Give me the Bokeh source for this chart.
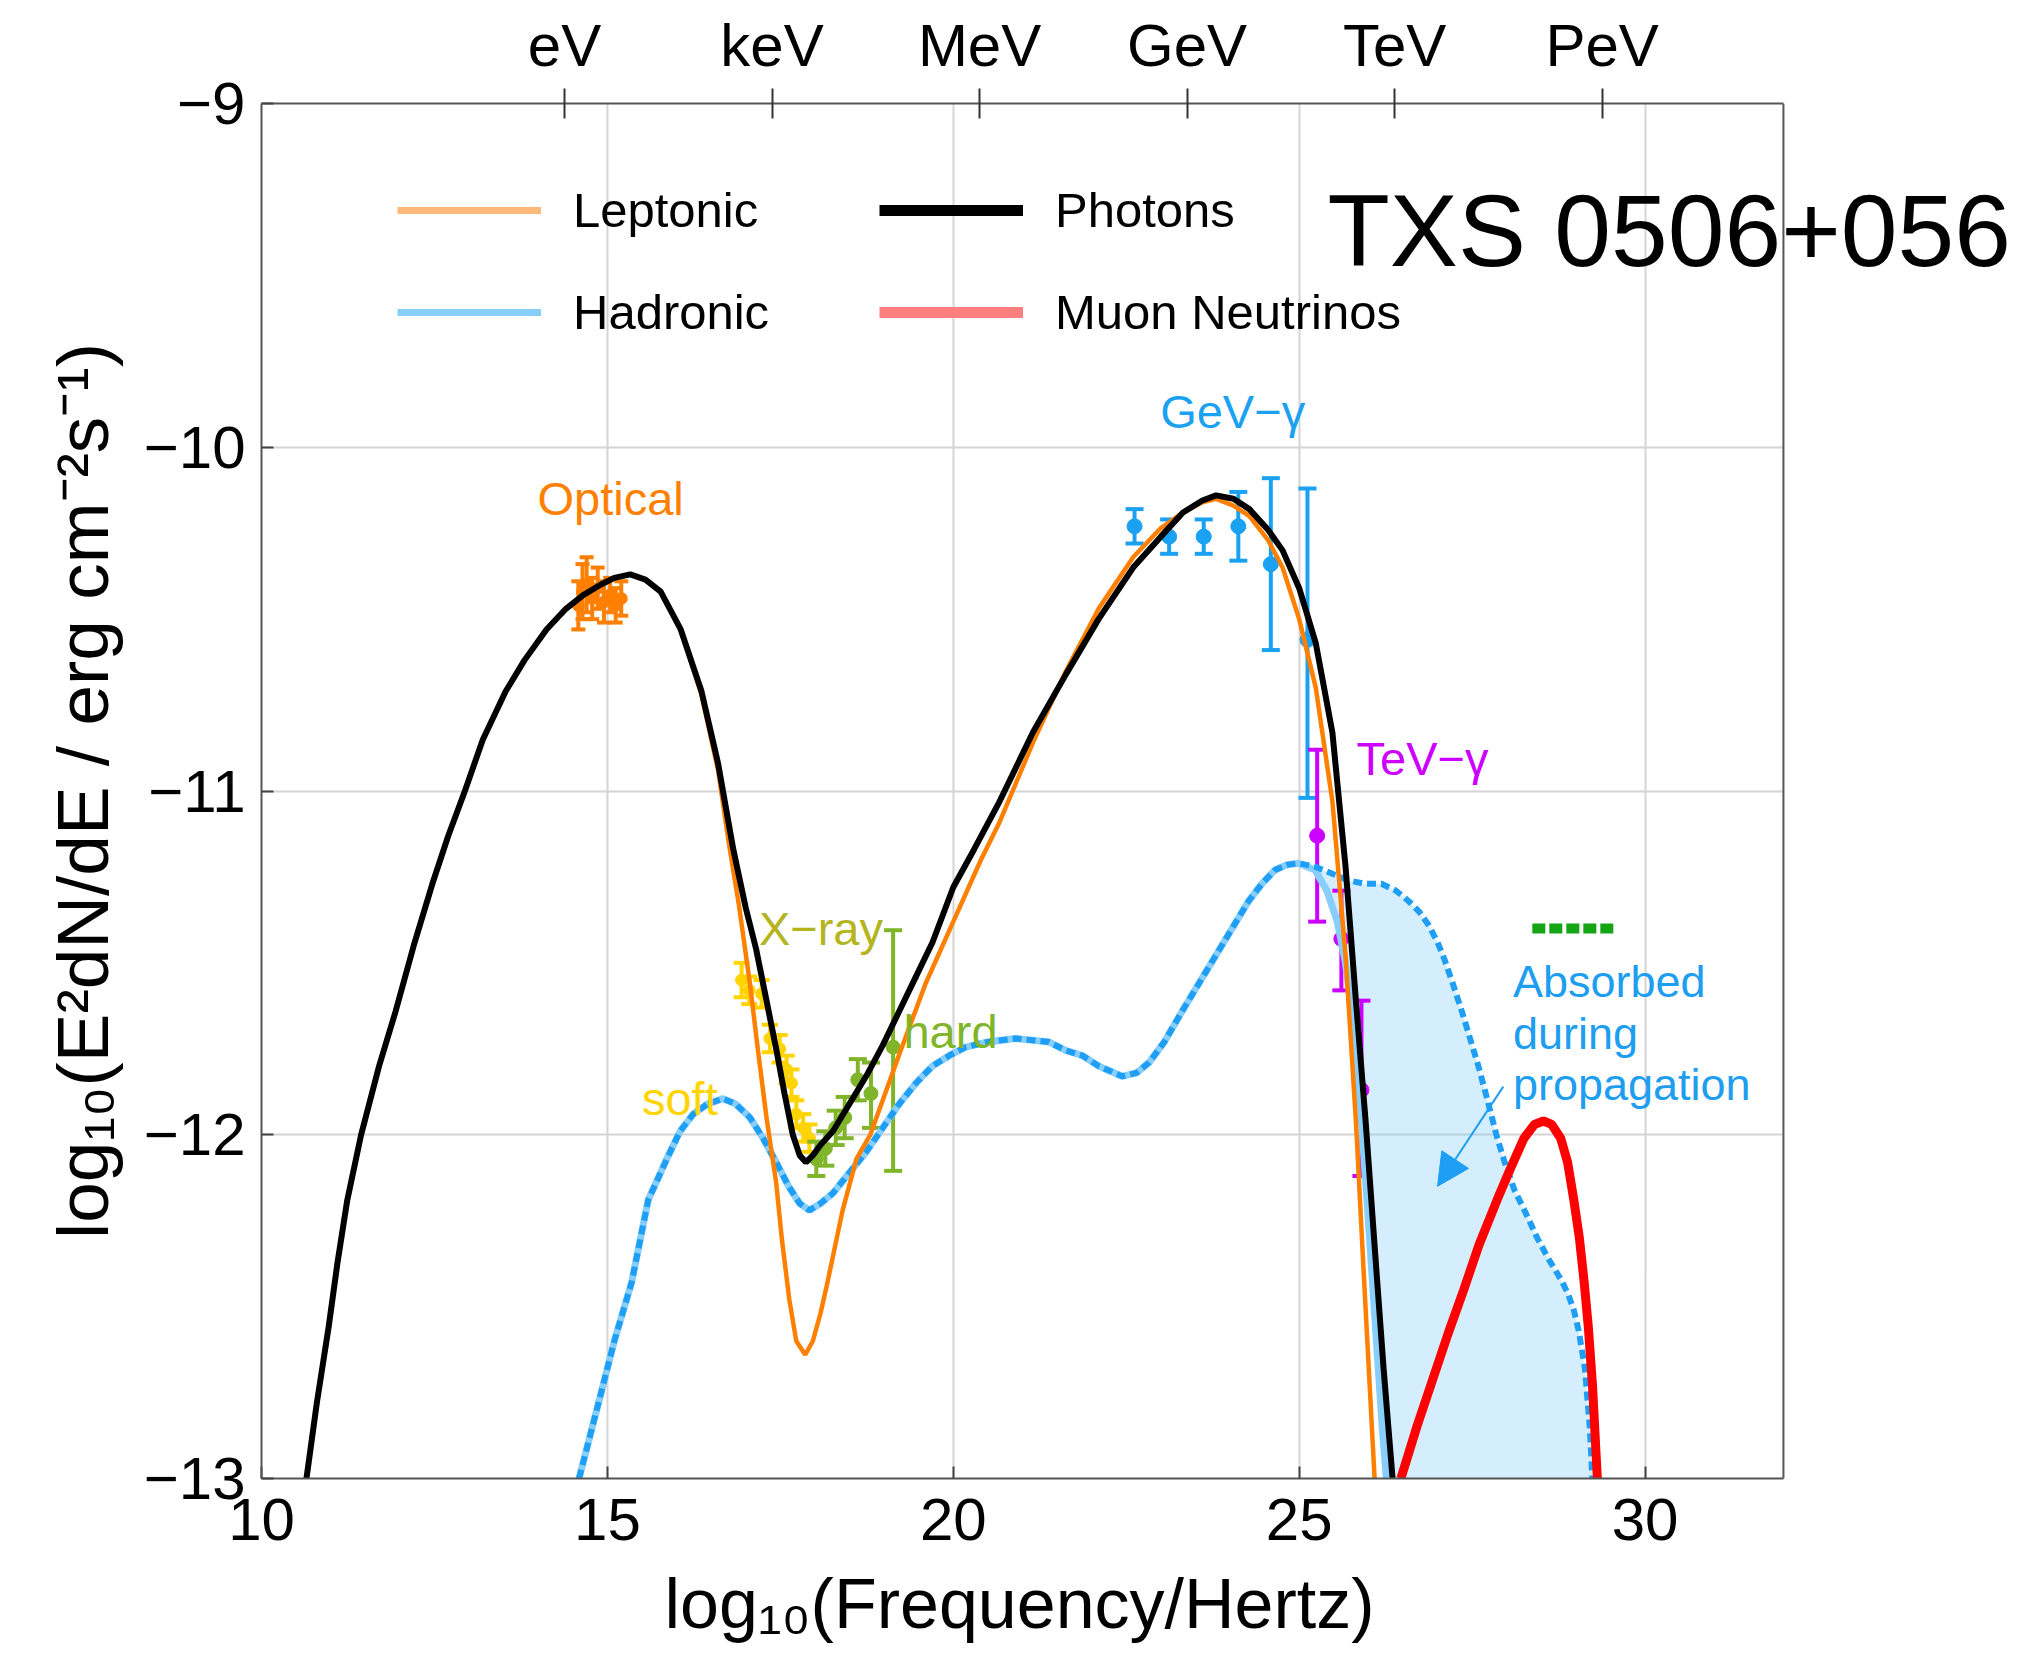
from bokeh.plotting import figure
from bokeh.models import (Range1d, LinearAxis, FixedTicker, Label, Legend, LegendItem,
                          Arrow, NormalHead, Span, Title)
from bokeh.embed import file_html
from bokeh.resources import INLINE

# x: log10(frequency / Hz), y: log10(E^2 dN/dE / erg cm^-2 s^-1)

photons_x = [10.65, 10.8, 10.97, 11.1, 11.24, 11.44, 11.7, 11.94, 12.2, 12.47, 12.7, 12.94,
             13.2, 13.53, 13.8, 14.12, 14.4, 14.65, 14.9, 15.1, 15.33, 15.55, 15.77, 16.06,
             16.36, 16.6, 16.82, 17.0, 17.15, 17.3, 17.44, 17.56, 17.68, 17.78, 17.87, 17.97,
             18.08, 18.26, 18.5, 18.74, 18.98, 19.22, 19.46, 19.7, 20.0, 20.3, 20.67, 21.15,
             21.63, 22.1, 22.6, 23.0, 23.32, 23.6, 23.8, 24.05, 24.28, 24.55, 24.76, 25.0,
             25.24, 25.48, 25.67, 25.82, 25.96, 26.1, 26.22, 26.35]
photons_y = [-13.0, -12.78, -12.56, -12.37, -12.19, -12.0, -11.8, -11.64, -11.45, -11.27, -11.13, -11.0,
             -10.85, -10.71, -10.62, -10.53, -10.47, -10.43, -10.4, -10.38, -10.37, -10.385, -10.42, -10.53,
             -10.71, -10.92, -11.17, -11.34, -11.46, -11.61, -11.75, -11.88, -12.0, -12.06, -12.08, -12.06,
             -12.03, -11.99, -11.91, -11.83, -11.74, -11.64, -11.54, -11.44, -11.28, -11.17, -11.03, -10.83,
             -10.66, -10.5, -10.35, -10.26, -10.19, -10.155, -10.14, -10.15, -10.18, -10.24, -10.3, -10.41,
             -10.57, -10.83, -11.22, -11.61, -11.96, -12.35, -12.68, -13.0]

leptonic_x = [10.65, 10.8, 10.97, 11.1, 11.24, 11.44, 11.7, 11.94, 12.2, 12.47, 12.7, 12.94,
              13.2, 13.53, 13.8, 14.12, 14.4, 14.65, 14.9, 15.1, 15.33, 15.55, 15.77, 16.06,
              16.36, 16.6, 16.77, 16.9, 17.06, 17.18, 17.3, 17.44, 17.52, 17.63, 17.73, 17.86,
              17.97, 18.08, 18.17, 18.4, 18.6, 18.8, 19.23, 19.6, 20.0, 20.4, 20.67, 21.15,
              21.63, 22.1, 22.6, 23.0, 23.32, 23.6, 23.8, 24.05, 24.28, 24.55, 24.76, 25.0,
              25.24, 25.48, 25.67, 25.82, 25.94, 26.09]
leptonic_y = [-13.0, -12.78, -12.56, -12.37, -12.19, -12.0, -11.8, -11.64, -11.45, -11.27, -11.13, -11.0,
              -10.85, -10.71, -10.62, -10.53, -10.47, -10.43, -10.4, -10.38, -10.37, -10.385, -10.42, -10.53,
              -10.72, -10.94, -11.17, -11.33, -11.56, -11.76, -11.95, -12.14, -12.3, -12.48, -12.6, -12.64,
              -12.6, -12.52, -12.44, -12.22, -12.07, -12.0, -11.76, -11.56, -11.38, -11.2, -11.09, -10.86,
              -10.65, -10.47, -10.32, -10.235, -10.19, -10.16, -10.15, -10.17, -10.2, -10.27, -10.35, -10.5,
              -10.7, -11.03, -11.48, -11.96, -12.43, -13.0]

# hadronic emission before propagation losses
hadronic_x = [14.59, 14.91, 15.1, 15.35, 15.59, 15.86, 16.05, 16.24, 16.45, 16.67, 16.85, 17.06,
              17.25, 17.44, 17.62, 17.78, 17.92, 18.08, 18.26, 18.5, 18.74, 18.98, 19.22, 19.46,
              19.7, 19.94, 20.18, 20.5, 20.9, 21.38, 21.63, 21.87, 22.1, 22.44, 22.65, 22.83,
              23.05, 23.31, 23.55, 23.79, 24.03, 24.27, 24.46, 24.65, 24.82, 24.99, 25.23, 25.47,
              25.71, 25.95, 26.19, 26.4, 26.58, 26.73, 26.87, 27.0, 27.1, 27.22, 27.35, 27.47,
              27.59, 27.71, 27.85, 27.97, 28.11, 28.28, 28.44, 28.6, 28.78, 28.88, 28.97, 29.04,
              29.09, 29.13, 29.2, 29.25]
hadronic_y = [-13.0, -12.75, -12.6, -12.43, -12.19, -12.07, -11.99, -11.94, -11.91, -11.895, -11.91, -11.95,
              -12.01, -12.08, -12.15, -12.2, -12.22, -12.2, -12.17, -12.11, -12.05, -11.98, -11.91, -11.85,
              -11.8, -11.77, -11.745, -11.73, -11.72, -11.73, -11.755, -11.77, -11.8, -11.83, -11.82, -11.79,
              -11.73, -11.64, -11.56, -11.48, -11.4, -11.32, -11.27, -11.23, -11.215, -11.21, -11.22, -11.24,
              -11.26, -11.27, -11.27, -11.29, -11.32, -11.35, -11.39, -11.44, -11.49, -11.56, -11.64, -11.72,
              -11.8, -11.89, -12.0, -12.08, -12.16, -12.23, -12.3, -12.36, -12.42, -12.46, -12.51, -12.57,
              -12.63, -12.68, -12.85, -13.05]

# hadronic emission that reaches Earth (branches off the curve above at its peak)
absorbed_x = [24.99, 25.23, 25.4, 25.55, 25.66, 25.75, 25.81, 25.88, 25.93, 26.0, 26.1, 26.2, 26.28]
absorbed_y = [-11.21, -11.23, -11.29, -11.38, -11.49, -11.62, -11.75, -11.9, -12.05, -12.25, -12.55, -12.85, -13.05]

neutrino_x = [26.47, 26.7, 26.9, 27.15, 27.38, 27.6, 27.86, 28.05, 28.25, 28.4, 28.53, 28.65,
              28.78, 28.88, 28.97, 29.05, 29.12, 29.18, 29.24, 29.31]
neutrino_y = [-13.0, -12.85, -12.73, -12.58, -12.45, -12.32, -12.19, -12.1, -12.01, -11.97, -11.96, -11.97,
              -12.01, -12.08, -12.19, -12.3, -12.43, -12.56, -12.73, -13.0]

nu_limit_x = [28.37, 29.59]
nu_limit_y = [-11.40, -11.40]

optical_x = [14.58, 14.64, 14.70, 14.78, 14.86, 14.95, 15.04, 15.12, 15.20]
optical_y = [-10.46, -10.42, -10.40, -10.44, -10.41, -10.45, -10.43, -10.46, -10.44]
optical_err = [0.07, 0.08, 0.08, 0.06, 0.06, 0.06, 0.05, 0.05, 0.05]

soft_x = [16.94, 17.05, 17.23, 17.35, 17.49, 17.59, 17.66, 17.73, 17.83, 17.92]
soft_y = [-11.55, -11.58, -11.59, -11.72, -11.75, -11.81, -11.85, -11.94, -11.98, -12.01]
soft_err = [0.05, 0.04, 0.04, 0.04, 0.04, 0.04, 0.04, 0.04, 0.04, 0.04]

hard_x = [18.02, 18.15, 18.3, 18.43, 18.62, 18.81, 19.13]
hard_y = [-12.07, -12.04, -11.98, -11.95, -11.84, -11.88, -11.745]
hard_lo = [0.05, 0.05, 0.05, 0.06, 0.06, 0.1, 0.36]
hard_hi = [0.05, 0.05, 0.05, 0.06, 0.06, 0.09, 0.34]

gev_x = [22.62, 23.12, 23.62, 24.12, 24.59, 25.12]
gev_y = [-10.23, -10.26, -10.26, -10.23, -10.34, -10.56]
gev_lo = [0.05, 0.05, 0.05, 0.1, 0.25, 0.46]
gev_hi = [0.05, 0.05, 0.05, 0.1, 0.25, 0.44]

tev_x = [25.26, 25.61, 25.90]
tev_y = [-11.13, -11.43, -11.87]
tev_lo = [0.25, 0.15, 0.25]
tev_hi = [0.25, 0.14, 0.26]

x_ticks = [10, 15, 20, 25, 30]
y_ticks = [-13, -12, -11, -10, -9]
y_tick_labels = ["\u221213", "\u221212", "\u221211", "\u221210", "\u22129"]
energy_ticks = [14.38, 17.38, 20.38, 23.38, 26.38, 29.38]
energy_labels = ["eV", "keV", "MeV", "GeV", "TeV", "PeV"]

FONT = "Liberation Sans"
ORANGE = "#FF7F00"
BLUE = "#1E9EF5"
LIGHT_BLUE = "#87CEFA"
FRAME = "#555555"
GRID = "#d4d4d4"
X_MIN, X_MAX = 10, 32

# The drawing area runs past x = 32 so that the source name can overhang the box;
# the box itself is closed at x = 32 by the axes' bounds and a span.
p = figure(width=2019, height=1662, output_backend="svg", toolbar_location=None,
           x_range=Range1d(10, 35.34), y_range=Range1d(-13, -9),
           min_border_left=261, min_border_right=5, min_border_top=103, min_border_bottom=184,
           background_fill_color="white", border_fill_color="white")
p.outline_line_color = None

p.xaxis.ticker = FixedTicker(ticks=x_ticks)
p.yaxis.ticker = FixedTicker(ticks=y_ticks)
p.yaxis.major_label_overrides = dict(zip(y_ticks, y_tick_labels))
for ax in (p.xaxis[0], p.yaxis[0]):
    ax.major_label_text_font = FONT
    ax.major_label_text_font_size = "60px"
    ax.major_label_text_color = "black"
    ax.axis_label_text_font = FONT
    ax.axis_label_text_font_style = "normal"
    ax.axis_label_text_color = "black"
    ax.major_tick_in = 12
    ax.major_tick_out = 0
    ax.major_tick_line_color = "#444444"
    ax.major_tick_line_width = 2
    ax.minor_tick_line_color = None
    ax.axis_line_color = FRAME
    ax.axis_line_width = 2
p.xaxis.bounds = (X_MIN, X_MAX)
p.xaxis.major_label_standoff = 20
p.yaxis.major_label_standoff = 16
p.yaxis.axis_label = "log\u2081\u2080(E\u00b2dN/dE / erg cm\u207b\u00b2s\u207b\u00b9)"
p.yaxis.axis_label_text_font_size = "73px"
p.yaxis.axis_label_standoff = 18

# x-axis title, placed under the box rather than under the whole drawing area
p.add_layout(Title(text="log\u2081\u2080(Frequency/Hertz)", align="left", offset=403,
                   text_font=FONT, text_font_size="70px", text_font_style="normal",
                   text_color="black", standoff=40), "below")

top = LinearAxis(ticker=FixedTicker(ticks=energy_ticks), bounds=(X_MIN, X_MAX),
                 major_label_overrides=dict(zip(energy_ticks, energy_labels)),
                 major_label_text_font=FONT, major_label_text_font_size="60px",
                 major_label_text_color="black", major_label_standoff=10,
                 major_tick_in=15, major_tick_out=15, major_tick_line_width=2,
                 major_tick_line_color="#333333", minor_tick_line_color=None,
                 axis_line_color=FRAME, axis_line_width=2)
p.add_layout(top, "above")
p.add_layout(Span(location=X_MAX, dimension="height", line_color=FRAME, line_width=2))

p.xgrid.ticker = FixedTicker(ticks=[15, 20, 25, 30])
p.xgrid.grid_line_color = GRID
p.xgrid.grid_line_width = 2
h_grid = [-12, -11, -10]
if "cross_bounds" in p.ygrid[0].properties():
    p.ygrid.ticker = FixedTicker(ticks=h_grid)
    p.ygrid.cross_bounds = (X_MIN, X_MAX)
    p.ygrid.grid_line_color = GRID
    p.ygrid.grid_line_width = 2
else:
    p.ygrid.grid_line_color = None
    p.segment([X_MIN] * 3, h_grid, [X_MAX] * 3, h_grid, line_color=GRID, line_width=2)

# absorbed band between the intrinsic and the observed hadronic spectra
i0 = hadronic_x.index(absorbed_x[0])
band_x = hadronic_x[i0:] + absorbed_x[::-1]
band_y = hadronic_y[i0:] + absorbed_y[::-1]
p.patch(band_x, band_y, fill_color=LIGHT_BLUE, fill_alpha=0.35, line_color=None)


def error_points(xs, ys, lo, hi, color, size, cap, width=4):
    upper = [y + h for y, h in zip(ys, hi)]
    lower = [y - l for y, l in zip(ys, lo)]
    p.segment(xs, lower, xs, upper, line_color=color, line_width=width)
    p.scatter(xs, upper, marker="dash", size=cap, line_color=color, line_width=width)
    p.scatter(xs, lower, marker="dash", size=cap, line_color=color, line_width=width)
    p.scatter(xs, ys, marker="circle", size=size, fill_color=color, line_color=color)


error_points(optical_x, optical_y, optical_err, optical_err, ORANGE, 12, 14)
error_points(soft_x, soft_y, soft_err, soft_err, "#FFD400", 12, 16)
error_points(hard_x, hard_y, hard_lo, hard_hi, "#80B52A", 14, 18)
error_points(gev_x, gev_y, gev_lo, gev_hi, "#1BA1F2", 15, 18)
error_points(tev_x, tev_y, tev_lo, tev_hi, "#CC00FF", 15, 18)

# observed hadronic curve = intrinsic up to the peak, then absorbed tail
obs_x = hadronic_x[:i0] + absorbed_x
obs_y = hadronic_y[:i0] + absorbed_y
p.line(obs_x, obs_y, line_color=LIGHT_BLUE, line_width=7)
p.line(hadronic_x, hadronic_y, line_color=BLUE, line_width=6, line_dash="9 5")
p.line(leptonic_x, leptonic_y, line_color=ORANGE, line_width=4.5)
p.line(photons_x, photons_y, line_color="black", line_width=6)
p.line(neutrino_x, neutrino_y, line_color="#FF0000", line_width=9)
p.line(nu_limit_x, nu_limit_y, line_color="#14A514", line_width=10, line_dash="13 4",
       line_cap="butt")

# legend swatches (renderers that draw nothing in the plot area)
nan2 = [float("nan")] * 2
sw_lep = p.line(nan2, nan2, line_color="#FFB97A", line_width=7)
sw_had = p.line(nan2, nan2, line_color=LIGHT_BLUE, line_width=7)
sw_pho = p.line(nan2, nan2, line_color="black", line_width=11)
sw_nu = p.line(nan2, nan2, line_color="#FF7F7F", line_width=11)
legend = Legend(items=[LegendItem(label="Leptonic", renderers=[sw_lep]),
                       LegendItem(label="Hadronic", renderers=[sw_had]),
                       LegendItem(label="Photons", renderers=[sw_pho]),
                       LegendItem(label="Muon Neutrinos", renderers=[sw_nu])],
                location=(136, 1138), orientation="vertical", nrows=2,
                glyph_width=144, glyph_height=56, label_standoff=32, label_width=260,
                label_height=56, spacing=46, padding=0, margin=0,
                border_line_color=None, background_fill_alpha=0,
                label_text_font=FONT, label_text_font_size="49px", label_text_color="black")
p.add_layout(legend)


def note(x, y, text, color, size="47px"):
    p.add_layout(Label(x=x, y=y, text=text, text_color=color, text_font=FONT,
                       text_font_size=size, text_baseline="alphabetic", text_align="left"))


note(13.99, -10.15, "Optical", ORANGE)
note(15.50, -11.895, "soft", "#FFD400")
note(17.19, -11.40, "X\u2212ray", "#B4B51E")
note(19.28, -11.70, "hard", "#80B52A")
note(22.99, -9.895, "GeV\u2212\u03b3", "#1BA1F2")
note(25.83, -10.905, "TeV\u2212\u03b3", "#CC00FF")
note(28.09, -11.555, "Absorbed", "#1E9EF0", "45px")
note(28.09, -11.705, "during", "#1E9EF0", "45px")
note(28.09, -11.855, "propagation", "#1E9EF0", "45px")
note(25.41, -9.37, "TXS 0506+056", "black", "102px")

p.add_layout(Arrow(x_start=27.95, y_start=-11.86, x_end=27.0, y_end=-12.15,
                   line_color="#1E9EF5", line_width=2,
                   end=NormalHead(size=32, fill_color="#1E9EF5", line_color="#1E9EF5")))

open("out.html", "w").write(file_html(p, INLINE))
